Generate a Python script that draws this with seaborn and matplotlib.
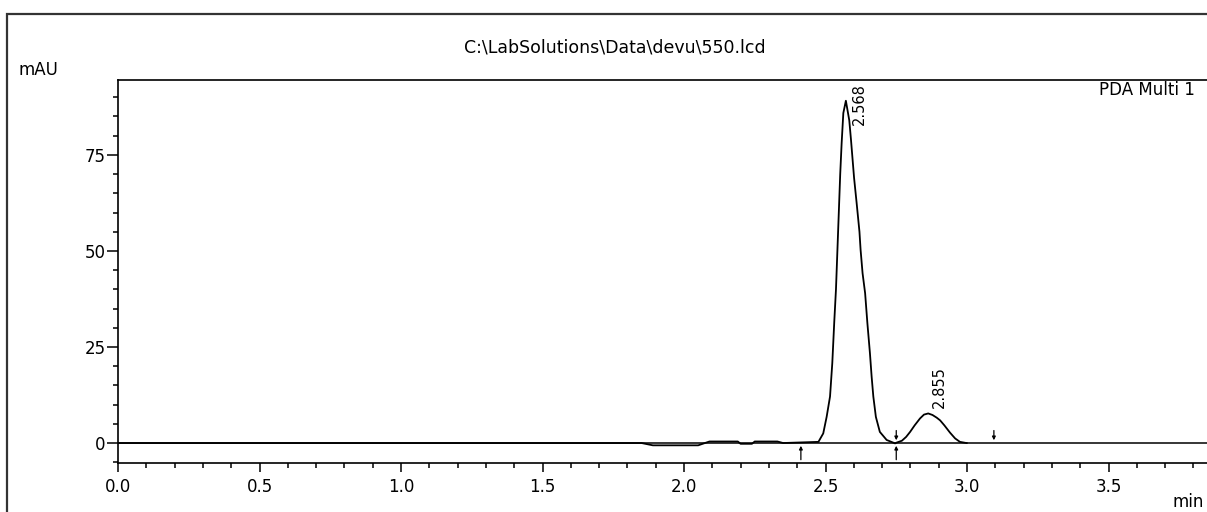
import matplotlib
matplotlib.use("Agg")
import matplotlib.pyplot as plt
import matplotlib.patches as patches
import numpy as np
import pandas as pd
import seaborn as sns

# chromatogram (time in min, signal in mAU)
time = [0.00, 1.85, 1.89, 2.05, 2.09, 2.19, 2.20, 2.24, 2.25, 2.33, 2.35, 2.475,
        2.492, 2.504, 2.516, 2.524, 2.531, 2.537, 2.542, 2.547, 2.552, 2.557, 2.563,
        2.572, 2.584, 2.590, 2.601, 2.610, 2.620, 2.624, 2.631, 2.640, 2.648, 2.657,
        2.663, 2.669, 2.678, 2.692, 2.716, 2.746, 2.751, 2.770, 2.785, 2.799, 2.815,
        2.834, 2.848, 2.863, 2.878, 2.893, 2.905, 2.920, 2.940, 2.958, 2.975, 2.998,
        3.00]
signal = [0.0, 0.0, -0.6, -0.6, 0.4, 0.4, -0.2, -0.2, 0.4, 0.4, 0.0, 0.3,
          2.5, 6.8, 12.1, 20.8, 31.6, 40.0, 50.0, 60.0, 70.0, 78.0, 85.9,
          89.1, 84.0, 79.0, 69.0, 62.5, 55.0, 50.3, 44.2, 39.0, 31.2, 23.4,
          17.3, 12.1, 6.8, 2.9, 0.8, -0.1, 0.1, 0.6, 1.6, 2.9, 4.6,
          6.4, 7.4, 7.7, 7.3, 6.6, 5.9, 4.6, 2.7, 1.2, 0.3, 0.0,
          0.0]

peak_times = [2.568, 2.855]
peak_labels = ["2.568", "2.855"]
peak_heights = [89.1, 7.7]

# integration start / end marks
mark_up = [2.413, 2.750]
mark_down = [2.750, 3.095]

df = pd.DataFrame({"min": time, "mAU": signal})

sns.set_style("ticks")
plt.rcParams['font.family'] = ['DejaVu Sans']
plt.rcParams['text.color'] = 'black'

fig = plt.figure(figsize=(12.07, 5.12), dpi=100)
ax = fig.add_axes([118/1207, 49/512, 4.0*283/1207, 383/512])

ax.axhline(0, color="black", lw=1.1)
sns.lineplot(data=df, x="min", y="mAU", ax=ax, color="black", lw=1.3,
             sort=False, estimator=None)

ax.set_xlim(0, 4.0)
ax.set_ylim(-5.2, 94.5)
ax.set_xticks([0, 0.5, 1.0, 1.5, 2.0, 2.5, 3.0, 3.5])
ax.set_xticks(np.arange(0, 4.0, 0.1), minor=True)
ax.set_yticks([0, 25, 50, 75])
ax.set_yticks(np.arange(-5, 95, 5), minor=True)
ax.set_xlabel("")
ax.set_ylabel("")
ax.tick_params(which="both", width=1.1, colors="black", labelsize=12)
ax.tick_params(axis="x", which="major", direction="out", length=6.5, pad=4)
ax.tick_params(axis="x", which="minor", direction="out", length=3.6)
ax.tick_params(axis="y", which="major", direction="out", length=8, pad=1)
ax.tick_params(axis="y", which="minor", direction="out", length=3.6)
for s in ax.spines.values():
    s.set_linewidth(1.2)
    s.set_color("black")
ax.spines["right"].set_visible(False)

# peak labels
ax.text(peak_times[0] + 0.026, peak_heights[0] + 4.5, peak_labels[0], rotation=90,
        ha="left", va="top", fontsize=10.5)
ax.text(peak_times[1] + 0.020, peak_heights[1] + 1.4, peak_labels[1], rotation=90,
        ha="left", va="bottom", fontsize=10.5)

for t in mark_up:
    ax.annotate("", xy=(t, 0), xytext=(0, -12), textcoords="offset points",
                arrowprops=dict(arrowstyle="-|>", color="black", lw=0.9,
                                mutation_scale=5, shrinkA=0, shrinkB=2))
for t in mark_down:
    ax.annotate("", xy=(t, 0), xytext=(0, 9), textcoords="offset points",
                arrowprops=dict(arrowstyle="-|>", color="black", lw=0.9,
                                mutation_scale=5, shrinkA=0, shrinkB=2))

ax.text(3.465, 92, "PDA Multi 1", ha="left", va="center", fontsize=12)

fig.text(615/1207, 1 - 47/512, r"C:\LabSolutions\Data\devu\550.lcd",
         ha="center", va="center", fontsize=12.5)
fig.text(19/1207, 1 - 70/512, "mAU", ha="left", va="center", fontsize=12)
fig.text(1172/1207, 1/512, "min", ha="left", va="bottom", fontsize=12)

frame = patches.Rectangle((7/1207, -0.1), 2, 0.1 + 1 - 14/512, transform=fig.transFigure,
                          fill=False, edgecolor="#333333", lw=1.6)
fig.patches.append(frame)

fig.savefig("out.png", dpi=100, facecolor="white")
